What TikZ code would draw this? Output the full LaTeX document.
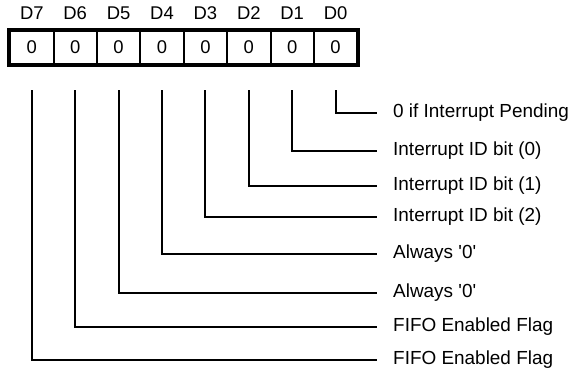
\documentclass[tikz,border=0pt]{standalone}
\usepackage{fontspec}
\setmainfont{Liberation Sans}
\usetikzlibrary{positioning}

\tikzset{
  bitcell/.style={draw, line width=2bp, minimum width=43.4bp, minimum height=33.5bp,
    inner sep=0pt, font=\fontsize{18.5}{21}\selectfont},
  bitname/.style={inner sep=0pt, font=\fontsize{18.5}{21}\selectfont},
  fieldlabel/.style={anchor=west, inner sep=0pt, font=\fontsize{19}{22}\selectfont},
  leader/.style={line width=2bp, shorten <=25bp, shorten >=16bp}
}

\begin{document}
\begin{tikzpicture}[x=1bp, y=-1bp]
  \useasboundingbox (0,0) rectangle (574,373);
  % register cells, D7 at the left
  \foreach \i in {0,...,7} {
    \node[bitcell] (b\i) at ({335.6-43.4*\i}, 47.5) {0};
    \node[bitname, above=10bp of b\i] (n\i) {D\i};
  }
  \draw[line width=4bp] (b7.north west) rectangle (b0.south east);
  % field descriptions
  \foreach \i/\y/\txt in {0/113/{0 if Interrupt Pending}, 1/151/{Interrupt ID bit (0)},
      2/186/{Interrupt ID bit (1)}, 3/217/{Interrupt ID bit (2)},
      4/254/{Always \textquotesingle0\textquotesingle},
      5/293/{Always \textquotesingle0\textquotesingle},
      6/327/{FIFO Enabled Flag}, 7/360/{FIFO Enabled Flag}} {
    \node[fieldlabel] (l\i) at (393, \y) {\txt};
    \draw[leader] (b\i.south) |- (l\i.west);
  }
\end{tikzpicture}
\end{document}
